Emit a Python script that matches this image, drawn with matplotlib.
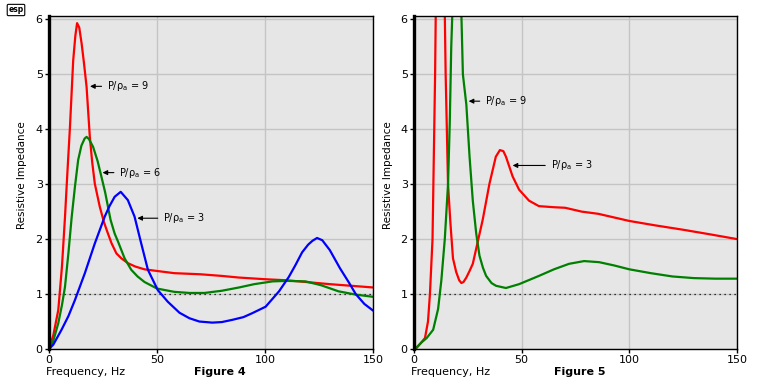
import matplotlib
matplotlib.use('Agg')
import matplotlib.pyplot as plt

# Figure 4 (left)
f4_red_x = [0, 2, 4.3, 6, 7.4, 8.5, 9.7, 11.2, 12.2, 13, 14, 15.1, 16.2, 17.4, 18.9, 20, 21.2, 23.5, 25.5,
            27.3, 29, 31.2, 33.5, 36.6, 40, 44.2, 50, 58, 70, 80, 88, 100, 110, 118.8, 130, 140, 150]
f4_red_y = [0, 0.25, 0.71, 1.5, 2.4, 3.2, 4.04, 5.25, 5.7, 5.93, 5.85, 5.56, 5.2, 4.77, 3.86, 3.4, 3.01, 2.59, 2.3,
            2.10, 1.92, 1.74, 1.65, 1.56, 1.5, 1.45, 1.42, 1.38, 1.36, 1.33, 1.30, 1.27, 1.25, 1.22, 1.18, 1.15, 1.12]

f4_grn_x = [0, 2, 4.3, 6, 7.4, 9, 10.5, 12, 13.5, 15, 16.5, 17.4, 18.5, 20.4, 22.5, 24.3, 26, 27.3, 28.5,
            30.4, 32, 33.5, 35, 38.1, 41, 44.2, 50, 58, 65, 72, 80, 88, 95, 103.4, 110, 118.8, 126, 134, 142, 150]
f4_grn_y = [0, 0.15, 0.47, 0.8, 1.13, 1.75, 2.4, 2.95, 3.44, 3.7, 3.83, 3.86, 3.82, 3.68, 3.42, 3.13, 2.85, 2.59, 2.35,
            2.10, 1.95, 1.80, 1.65, 1.44, 1.32, 1.22, 1.1, 1.04, 1.02, 1.02, 1.06, 1.12, 1.18, 1.23, 1.24, 1.23, 1.16, 1.05,
            0.99, 0.95]

f4_blu_x = [0, 2, 5.8, 9, 12, 16.6, 21.2, 25.8, 28, 30.4, 33.2, 36.5, 39.6, 42.7, 45.8, 50.4, 55, 60.4, 65,
            69.6, 75.6, 80, 84.8, 90, 94, 100.3, 106.5, 111, 114, 117.2, 120, 122, 124.1, 126.5, 130, 134.7,
            139, 142, 146, 150]
f4_blu_y = [0, 0.08, 0.35, 0.6, 0.89, 1.38, 1.92, 2.41, 2.6, 2.77, 2.86, 2.71, 2.41, 1.92, 1.44, 1.07, 0.86, 0.66, 0.56,
            0.5, 0.48, 0.49, 0.53, 0.58, 0.65, 0.77, 1.05, 1.31, 1.52, 1.76, 1.9, 1.97, 2.02, 1.98, 1.8, 1.47,
            1.2, 1.0, 0.82, 0.7]

# Figure 5 (right)
f5_red_x = [0, 1.2, 3, 5.1, 6.5, 7.4, 8.6, 9.0, 9.8, 10.1, 12, 14.3, 14.7, 15.8, 16.9, 18.1, 19.6, 21, 22, 23,
            24.3, 25.8, 27.3, 29.6, 31.9, 35, 38, 39.9, 41.5, 42.7, 45.8, 48.8, 53.4, 58, 65, 70.2, 77.9, 85.6,
            100, 112, 125, 137, 150]
f5_red_y = [0, 0.02, 0.1, 0.2, 0.5, 1.0, 2.0, 3.0, 5.0, 6.1, 8, 6.1, 5.0, 3.0, 2.3, 1.65, 1.4, 1.25, 1.2, 1.22,
            1.3, 1.42, 1.55, 1.95, 2.35, 3.0, 3.5, 3.62, 3.6, 3.5, 3.14, 2.9, 2.7, 2.6, 2.58, 2.57, 2.5, 2.46,
            2.33, 2.25, 2.17, 2.09, 2.0]

f5_grn_x = [0, 1.2, 3.5, 5.9, 8.9, 11.2, 12.7, 14.3, 15.8, 16.6, 17.3, 17.8, 20, 22, 22.7, 24.3, 25.8, 27.3,
            28.9, 30.4, 32, 33.5, 36, 38.1, 42.7, 48.8, 58, 65, 72, 79, 86, 93, 100, 110, 120, 130, 140, 150]
f5_grn_y = [0, 0.03, 0.12, 0.2, 0.35, 0.73, 1.25, 2.0, 3.0, 4.1, 5.5, 6.1, 8, 6.1, 5.0, 4.45, 3.5, 2.7,
            2.1, 1.7, 1.48, 1.33, 1.2, 1.15, 1.11, 1.18, 1.33, 1.45, 1.55, 1.6, 1.58, 1.52, 1.45, 1.38, 1.32,
            1.29, 1.28, 1.28]

xticks = [0, 50, 100, 150]
yticks = [0, 1, 2, 3, 4, 5, 6]

RED = '#ff0000'
GRN = '#008000'
BLU = '#0000ff'
BG = '#e6e6e6'

fig = plt.figure(figsize=(7.74, 3.9), dpi=100)
W, H = 774.0, 390.0


def make_ax(left_px, right_px):
    ax = fig.add_axes([left_px / W, 1 - 349 / H, (right_px - left_px) / W, (349 - 16) / H])
    ax.set_facecolor(BG)
    ax.set_xlim(0, 150)
    ax.set_ylim(0, 6.06)
    ax.set_xticks(xticks)
    ax.set_yticks(yticks)
    ax.grid(True, color='#c4c4c4', lw=1)
    ax.set_axisbelow(True)
    for s in ax.spines.values():
        s.set_color('black')
        s.set_linewidth(1)
    ax.spines['left'].set_linewidth(2.4)
    ax.tick_params(length=3, width=1, labelsize=8, pad=1.5, colors='black')
    ax.axhline(1, color='black', ls=(0, (1, 3)), lw=0.9)
    return ax


def label(ax, text, tip, txt):
    ax.annotate(text, xy=tip, xytext=txt, fontsize=7, va='center', ha='left',
                arrowprops=dict(arrowstyle='-|>', color='black', lw=0.8, mutation_scale=7,
                                shrinkA=2, shrinkB=0))


ax1 = make_ax(49, 373)
ax1.plot(f4_red_x, f4_red_y, color=RED, lw=1.6)
ax1.plot(f4_grn_x, f4_grn_y, color=GRN, lw=1.6)
ax1.plot(f4_blu_x, f4_blu_y, color=BLU, lw=1.6)
label(ax1, r'P/ρ$_\mathrm{a}$ = 9', (19.0, 4.78), (26.9, 4.78))
label(ax1, r'P/ρ$_\mathrm{a}$ = 6', (24.8, 3.21), (32.6, 3.21))
label(ax1, r'P/ρ$_\mathrm{a}$ = 3', (40.9, 2.38), (52.9, 2.38))

ax2 = make_ax(414, 737)
ax2.plot(f5_red_x, f5_red_y, color=RED, lw=1.6)
ax2.plot(f5_grn_x, f5_grn_y, color=GRN, lw=1.6)
label(ax2, r'P/ρ$_\mathrm{a}$ = 9', (25.4, 4.51), (33.1, 4.51))
label(ax2, r'P/ρ$_\mathrm{a}$ = 3', (45.8, 3.34), (63.5, 3.34))

for xl, xf, fig_name, yl in [(46, 220, 'Figure 4', 22), (411, 580, 'Figure 5', 388)]:
    fig.text(xl / W, 1 - 372 / H, 'Frequency, Hz', fontsize=8, ha='left', va='center')
    fig.text(xf / W, 1 - 372 / H, fig_name, fontsize=8, fontweight='bold', ha='center', va='center')
    fig.text(yl / W, 1 - 175 / H, 'Resistive Impedance', fontsize=7.5, rotation=90,
             ha='center', va='center')

fig.text(16 / W, 1 - 10 / H, 'esp', fontsize=5.5, fontweight='bold', ha='center', va='center',
         bbox=dict(boxstyle='round,pad=0.15', fc='white', ec='black', lw=0.8))

plt.savefig('out.png', dpi=100)
